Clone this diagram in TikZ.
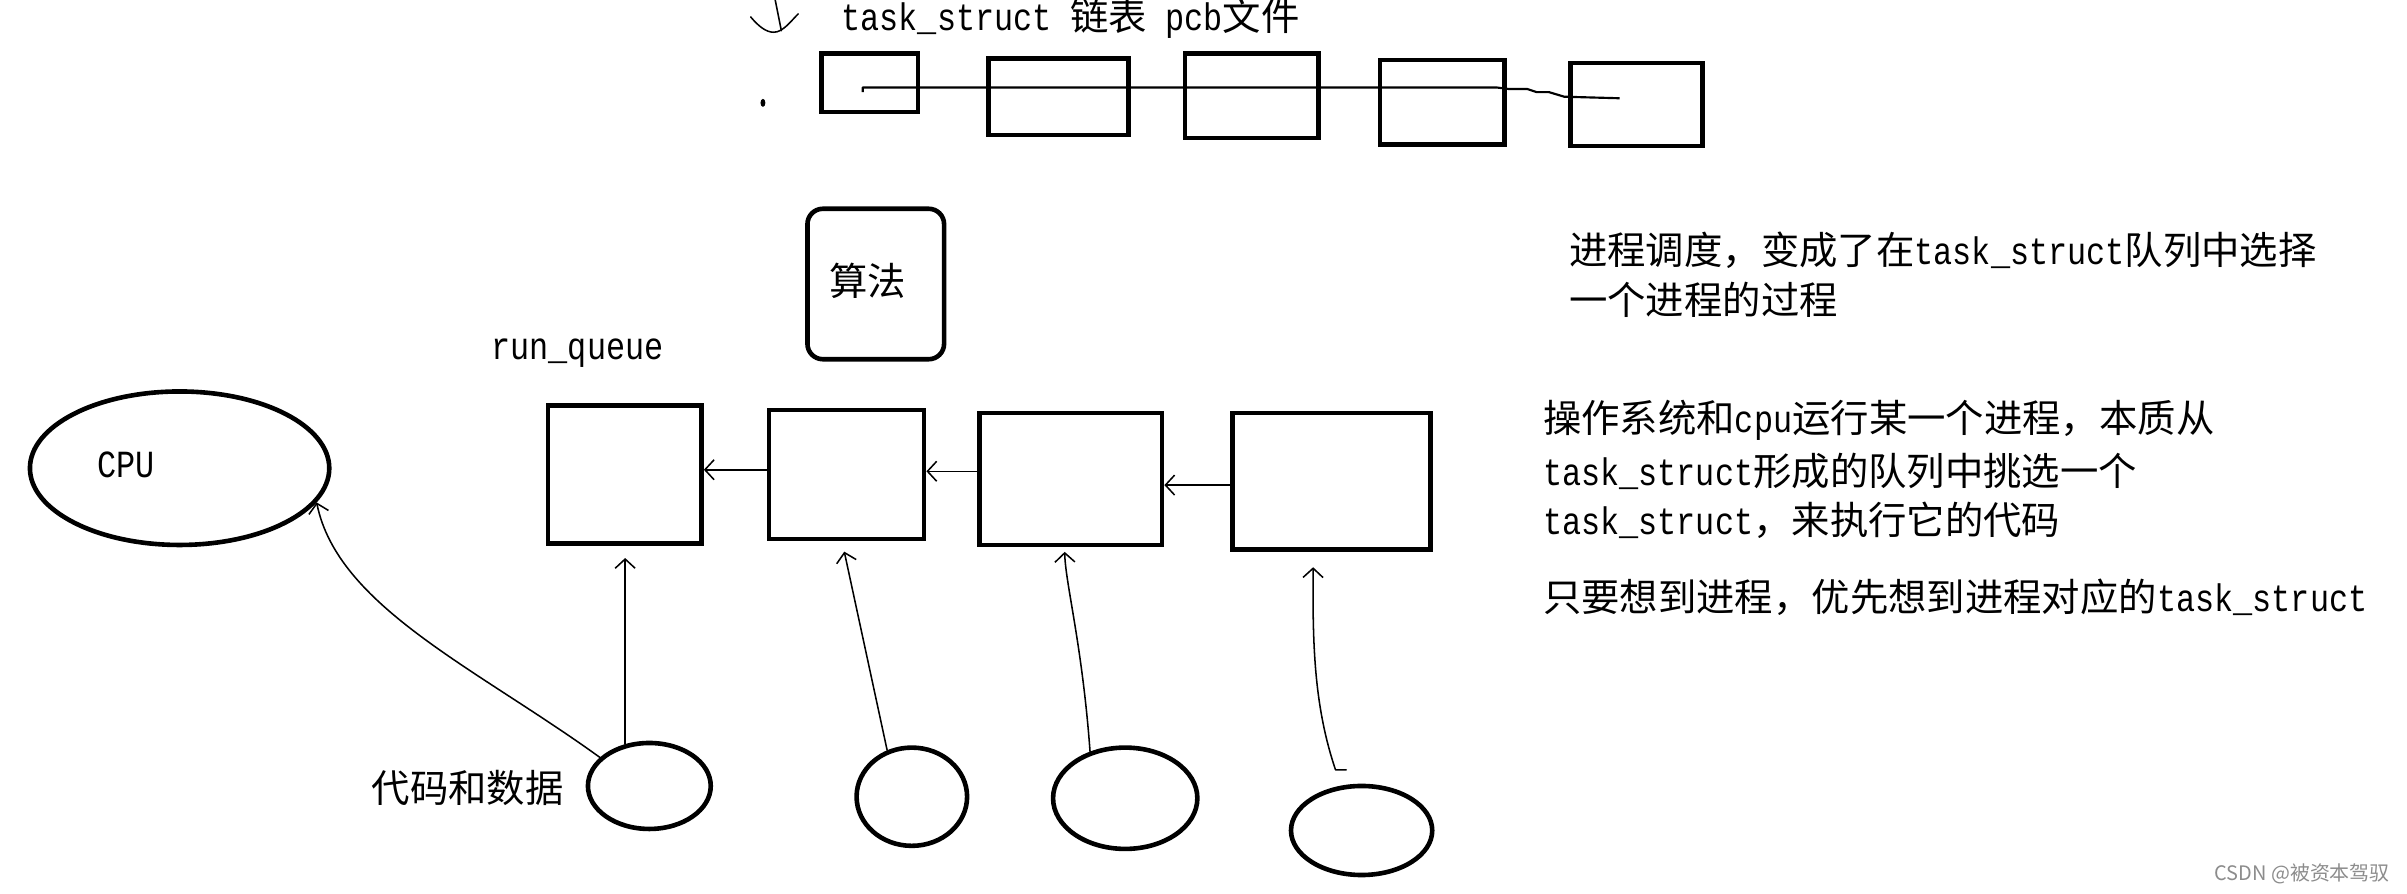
\documentclass[tikz,border=0pt]{standalone}
\usepackage{fontspec}
\setmainfont{Noto Sans CJK SC}
\setmonofont{Liberation Mono}
\usetikzlibrary{arrows.meta,shapes.geometric}
\newcommand\lat[1]{\scalebox{0.83}[1]{\ttfamily #1}}
\tikzset{
  thickbox/.style={draw, line width=3pt, rectangle, inner sep=0pt},
  oval/.style={draw, line width=3pt, ellipse, inner sep=0pt},
  txt/.style={inner sep=0pt, anchor=west, font=\fontsize{25}{30}\selectfont},
  pen/.style={line width=1pt, line cap=round, line join=round},
  arr/.style={pen, -{Straight Barb[length=6pt,width=13pt]}},
}
\begin{document}
\begin{tikzpicture}[x=1pt,y=-1pt]
\useasboundingbox (0,0) rectangle (1568,582);

% title
\node[txt] (title) at (548,12) {\lat{task\_struct}\hspace{12pt}链表\hspace{12pt}\lat{pcb}文件};
\draw[pen] (489,11) .. controls (494,17) and (499,21) .. (504,21) .. controls (510,21) and (515,14) .. (520,9);
\draw[pen] (505,0) -- (509,20);
\fill (497,67) ellipse (1.6 and 2.6);

% linked list boxes
\node[thickbox, minimum width=63pt, minimum height=38pt] (b1) at (566.5,54) {};
\node[thickbox, minimum width=91pt, minimum height=50pt] (b2) at (689.5,63) {};
\node[thickbox, minimum width=87pt, minimum height=55pt] (b3) at (815.5,62.5) {};
\node[thickbox, minimum width=81pt, minimum height=55pt] (b4) at (939.5,66.5) {};
\node[thickbox, minimum width=86pt, minimum height=54pt] (b5) at (1066,68) {};
\draw[line width=1.4pt, line join=round]
  ([xshift=-4.5pt,yshift=-6pt]b1.center) -- ([xshift=-4.5pt,yshift=-3pt]b1.center)
  -- ++(413,0) -- ++(8,1) -- ++(12,0) -- ++(6,2) -- ++(8,0) -- ++(10,3) -- ([xshift=-11pt,yshift=4pt]b5.center);

% algorithm box
\node[thickbox, rounded corners=10pt, minimum width=89pt, minimum height=98pt] (alg) at (570.5,185) {};
\node[txt] (algtext) at (540,183) {算法};

% run queue
\node[txt] (rq) at (320,230) {\lat{run\_queue}};
\node[thickbox, minimum width=100pt, minimum height=90pt] (q1) at (407,309) {};
\node[thickbox, minimum width=101pt, minimum height=84pt] (q2) at (551.5,309) {};
\node[thickbox, minimum width=119pt, minimum height=86pt] (q3) at (697.5,312) {};
\node[thickbox, minimum width=129pt, minimum height=89pt] (q4) at (867.5,313.5) {};
\draw[arr] ([yshift=3pt]q2.west) -- ([yshift=3pt]q2.west -| q1.east);
\draw[arr] ([yshift=5pt]q3.west) -- ([yshift=5pt]q3.west -| q2.east);
\draw[arr] ([yshift=-2.5pt]q4.west) -- ([yshift=-2.5pt]q4.west -| q3.east);

% CPU
\node[oval, minimum width=195pt, minimum height=100pt] (cpu) at (117,305) {};
\node[txt] (cputext) at (63,303) {\lat{CPU}};

% code and data
\node[txt] (code) at (242,513) {代码和数据};
\node[oval, minimum width=80pt, minimum height=56pt] (e1) at (423,512) {};
\node[oval, minimum width=72pt, minimum height=64pt] (e2) at (594,519) {};
\node[oval, minimum width=94pt, minimum height=66pt] (e3) at (733,520) {};
\node[oval, minimum width=92pt, minimum height=58pt] (e4) at (887,541) {};

\draw[arr, shorten >=8pt] (e1.120) -- (e1.120 |- q1.south);
\draw[arr] (e1.150) .. controls (310,435) and (220,395) .. (cpu.-14);
\draw[arr, shorten >=7pt] (e2.118) -- ([xshift=-3pt]q2.south);
\draw[arr, shorten >=3pt] (e3.127) .. controls (705,420) and (694,380) .. ([xshift=-4pt]q3.south);
\draw[arr, shorten >=10pt] ([xshift=-10pt,yshift=9pt]e4.north) -- ([xshift=-17pt,yshift=9pt]e4.north) .. controls (856,460) and (855,420) .. ([xshift=-12pt]q4.south);

% explanations
\node[txt] (n1) at (1022,163) {进程调度，变成了在\lat{task\_struct}队列中选择};
\node[txt] (n2) at (1022,195) {一个进程的过程};
\node[txt] (n3) at (1005,274) {操作系统和\lat{cpu}运行某一个进程，本质从};
\node[txt] (n4) at (1005,307) {\lat{task\_struct}形成的队列中挑选一个};
\node[txt] (n5) at (1005,339) {\lat{task\_struct}，来执行它的代码};
\node[txt] (n6) at (1005,389) {只要想到进程，优先想到进程对应的\lat{task\_struct}};

\node[inner sep=0pt, anchor=east, text=black!45, font=\fontsize{13}{15}\selectfont] (wm) at (1557,569) {CSDN @被资本驾驭};
\end{tikzpicture}
\end{document}
